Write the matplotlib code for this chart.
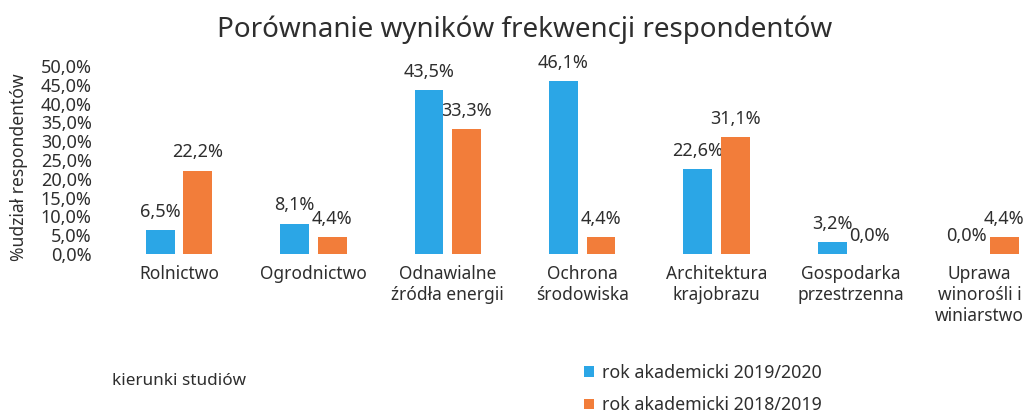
import matplotlib
matplotlib.use("Agg")
import matplotlib.pyplot as plt
import matplotlib.transforms as mtransforms
import numpy as np

# -------- Data --------
categories = ["Rolnictwo", "Ogrodnictwo", "Odnawialne\nźródła energii", "Ochrona\nśrodowiska",
              "Architektura\nkrajobrazu", "Gospodarka\nprzestrzenna", "Uprawa\nwinorośli i\nwiniarstwo"]
rok_2019_2020 = [6.5, 8.1, 43.5, 46.1, 22.6, 3.2, 0.0]
rok_2018_2019 = [22.2, 4.4, 33.3, 4.4, 31.1, 0.0, 4.4]
series_names = ["rok akademicki 2019/2020", "rok akademicki 2018/2019"]
yticks = np.arange(0, 51, 5)

blue = "#2ba6e6"
orange = "#f27d3a"
txt = "#2e2e2e"

plt.rcParams['font.family'] = ['Noto Sans', 'DejaVu Sans']

fig = plt.figure(figsize=(10.27, 4.13), dpi=100)
# plot area in pixels of the reference: x 100..1027, y 66..254
ax = fig.add_axes([100 / 1027, 1 - 254 / 413, 927 / 1027, 188 / 413])

x = np.arange(len(categories))
w = 0.215
off = 0.14
b1 = ax.bar(x - off, rok_2019_2020, w, color=blue, label=series_names[0], zorder=3)
b2 = ax.bar(x + off, rok_2018_2019, w, color=orange, label=series_names[1], zorder=3)

def fmt(v):
    return f"{v:.1f}%".replace(".", ",")

for bars, vals in ((b1, rok_2019_2020), (b2, rok_2018_2019)):
    for r, v in zip(bars, vals):
        xc = r.get_x() + r.get_width() / 2
        ax.annotate(fmt(v), (xc, v), xytext=(0, 13), textcoords="offset points",
                    ha="center", va="center", fontsize=13, color=txt, zorder=2)

ax.set_xlim(-0.588, 6.31)
ax.set_ylim(0, 50)
ax.set_yticks(yticks)
ax.set_yticklabels([fmt(t) for t in yticks], fontsize=13, color=txt)
ax.set_xticks(x)
ax.set_xticklabels(categories, fontsize=12.5, color=txt, linespacing=1.2, va="top")
ax.tick_params(axis="x", length=0, pad=8)
ax.tick_params(axis="y", length=0, pad=6)
for s in ax.spines.values():
    s.set_visible(False)

# last label sits a little left in the original so it fits the page
lbl = ax.get_xticklabels()[-1]
lbl.set_transform(lbl.get_transform() + mtransforms.ScaledTranslation(-6 / 100, 0, fig.dpi_scale_trans))

ax.set_ylabel("%udział respondentów", fontsize=12.6, color=txt)
ax.yaxis.set_label_coords(-0.078, 0.463)

fig.text(525 / 1027, 1 - 30 / 413, "Porównanie wyników frekwencji respondentów",
         ha="center", va="center", fontsize=20, color=txt)
fig.text(112 / 1027, 1 - 381 / 413, "kierunki studiów", ha="left", va="center",
         fontsize=12.3, color=txt)

fig.legend(handles=[b1, b2], loc="upper left", bbox_to_anchor=(568 / 1027, 1 - 348 / 413),
           frameon=False, fontsize=12.8, handlelength=0.56, handleheight=0.56,
           handletextpad=0.45, labelspacing=0.8, labelcolor=txt)

fig.savefig("out.png", dpi=100)
